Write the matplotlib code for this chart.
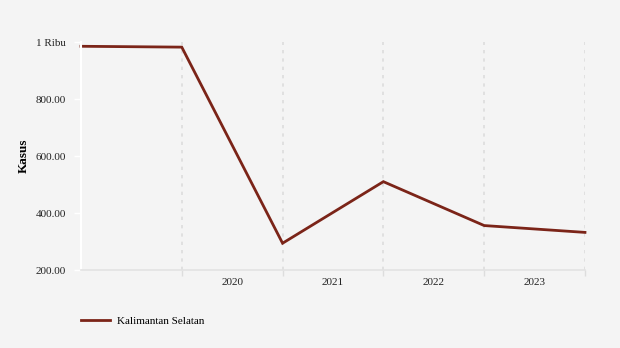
import matplotlib
matplotlib.use("Agg")
import matplotlib.pyplot as plt

plt.rcParams['font.family'] = ['Liberation Serif', 'DejaVu Serif']

positions = [0, 1, 2, 3, 4, 5]
kasus = [985, 982, 294, 510, 356, 332]
year_pos = [1.5, 2.5, 3.5, 4.5]
year_labels = ['2020', '2021', '2022', '2023']
y_ticks = [200, 400, 600, 800, 1000]
y_labels = ['200.00', '400.00', '600.00', '800.00', '1 Ribu']

bg = '#f4f4f4'
fig = plt.figure(figsize=(6.2, 3.48), dpi=100, facecolor=bg)
ax = fig.add_axes([0.1306, 0.2241, 0.8129, 0.6552], facecolor=bg)

ax.plot(positions, kasus, color='#7b2418', linewidth=2.0,
        solid_joinstyle='miter', label='Kalimantan Selatan', clip_on=False)

ax.set_xlim(0, 5)
ax.set_ylim(200, 1000)

ax.set_xticks([1, 2, 3, 4, 5])
ax.set_xticklabels([])
ax.set_xticks(year_pos, minor=True)
ax.set_xticklabels(year_labels, minor=True)
ax.tick_params(axis='x', which='major', length=4, color='#dddddd', width=1)
ax.tick_params(axis='x', which='minor', length=0, labelsize=8, pad=6, colors='#222222')
ax.grid(axis='x', which='major', color='#dddddd', linestyle=(0, (2, 3)), linewidth=1.2)

ax.set_yticks(y_ticks)
ax.set_yticklabels(y_labels)
ax.tick_params(axis='y', length=5, color='white', width=1, labelsize=8, pad=6)
ax.tick_params(axis='y', colors='white', labelcolor='#222222')

for side in ['top', 'right']:
    ax.spines[side].set_visible(False)
ax.spines['left'].set_color('white')
ax.spines['left'].set_linewidth(1.5)
ax.spines['bottom'].set_color('#e2e2e2')
ax.spines['bottom'].set_linewidth(1.2)

ax.set_ylabel('Kasus', fontsize=9.5, fontweight='bold', labelpad=4)

fig.legend(loc='lower left', bbox_to_anchor=(0.115, 0.035), frameon=False,
           fontsize=8, handlelength=2.6, handletextpad=0.6)

fig.savefig('out.png', dpi=100, facecolor=bg)
